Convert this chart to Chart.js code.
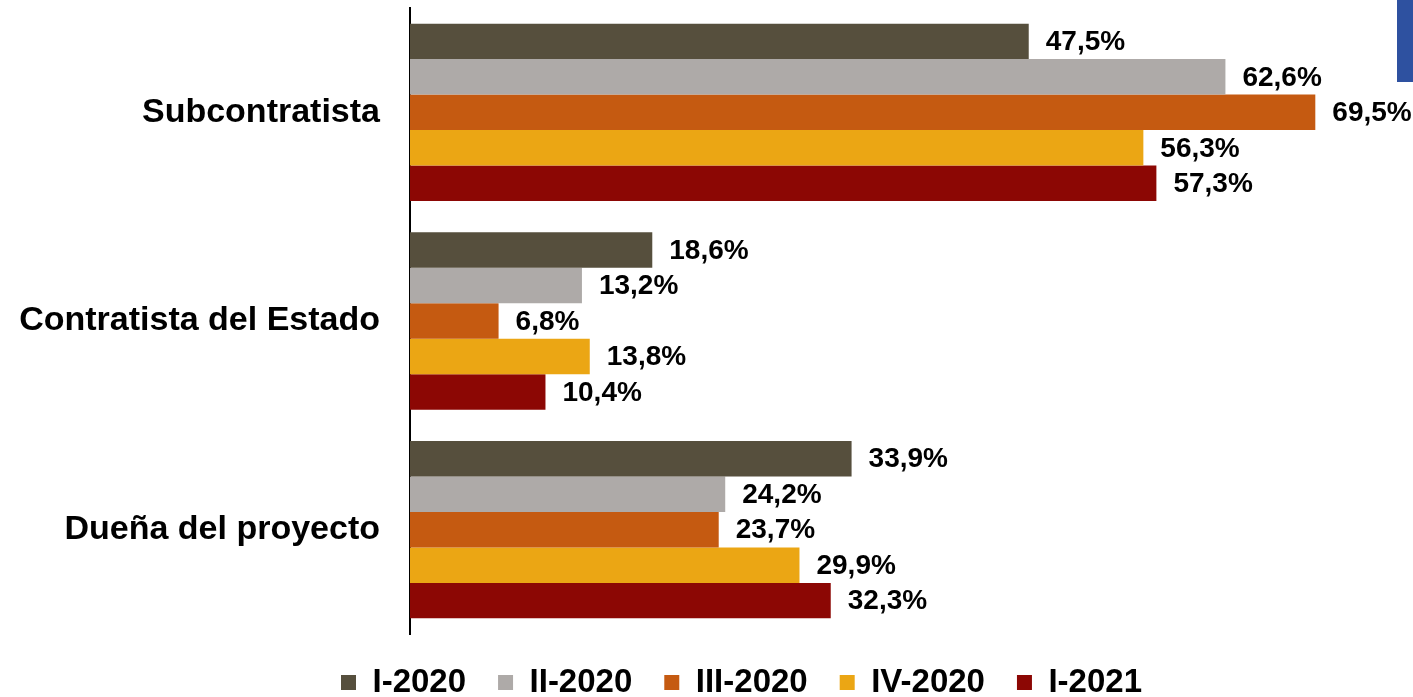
<!DOCTYPE html>
<html>
<head>
<meta charset="utf-8">
<script src="https://cdn.jsdelivr.net/npm/chart.js@4.4.1/dist/chart.umd.min.js"></script>
<style>
  html, body { margin: 0; padding: 0; background: #fff; }
  #wrap { position: relative; width: 1413px; height: 697px; }
  #corner { position: absolute; left: 1397px; top: 0; width: 16px; height: 82px; background: #2E51A0; }
</style>
</head>
<body>
<div id="wrap">
  <canvas id="myChart" width="1413" height="697"></canvas>
  <div id="corner"></div>
</div>
<script>
const categories = ['Subcontratista', 'Contratista del Estado', 'Dueña del proyecto']
const seriesNames = ['I-2020', 'II-2020', 'III-2020', 'IV-2020', 'I-2021']
const q1_2020 = [47.5, 18.6, 33.9]
const q2_2020 = [62.6, 13.2, 24.2]
const q3_2020 = [69.5, 6.8, 23.7]
const q4_2020 = [56.3, 13.8, 29.9]
const q1_2021 = [57.3, 10.4, 32.3]
const colors = ['#564F3D', '#AEAAA8', '#C55A11', '#EBA614', '#8C0704']

const allSeries = [q1_2020, q2_2020, q3_2020, q4_2020, q1_2021]

// etiquetas de valor a la derecha de cada barra
const valueLabels = {
  id: 'valueLabels',
  afterLayout(chart) {
    // la leyenda del original no esta centrada en el lienzo
    chart.legend.left += 35
    chart.legend.right += 35
  },
  afterDatasetsDraw(chart) {
    const { ctx } = chart
    ctx.save()
    ctx.font = 'bold 28px "Liberation Sans", Arial, sans-serif'
    ctx.fillStyle = '#000'
    ctx.textAlign = 'left'
    ctx.textBaseline = 'middle'
    chart.data.datasets.forEach((ds, i) => {
      chart.getDatasetMeta(i).data.forEach((bar, j) => {
        const txt = ds.data[j].toFixed(1).replace('.', ',') + '%'
        ctx.fillText(txt, bar.x + 17, bar.y + 1)
      })
    })
    ctx.restore()
  }
}

const ctx = document.getElementById('myChart')

new Chart(ctx, {
  type: 'bar',
  plugins: [valueLabels],
  data: {
    labels: categories,
    datasets: allSeries.map((vals, i) => ({
      label: seriesNames[i],
      data: vals,
      backgroundColor: colors[i],
      borderWidth: 0,
      barPercentage: 1.0,
      categoryPercentage: 0.85
    }))
  },
  options: {
    indexAxis: 'y',
    responsive: false,
    animation: false,
    layout: { padding: { top: 8, left: 0, right: 0, bottom: -12 } },
    scales: {
      x: {
        display: false,
        min: 0,
        max: 77
      },
      y: {
        afterFit(scale) {
          scale.width = 410
          scale.paddingTop = 0
          scale.paddingBottom = 0
        },
        grid: { display: false, drawTicks: false },
        border: { display: true, color: '#000', width: 2 },
        ticks: {
          padding: 30,
          color: '#000',
          font: { family: '"Liberation Sans", Arial, sans-serif', size: 34, weight: 'bold' }
        }
      }
    },
    plugins: {
      tooltip: { enabled: false },
      legend: {
        position: 'bottom',
        labels: {
          boxWidth: 15,
          boxHeight: 15,
          padding: 32,
          color: '#000',
          font: { family: '"Liberation Sans", Arial, sans-serif', size: 33, weight: 'bold' }
        }
      }
    }
  }
})
</script>
</body>
</html>
